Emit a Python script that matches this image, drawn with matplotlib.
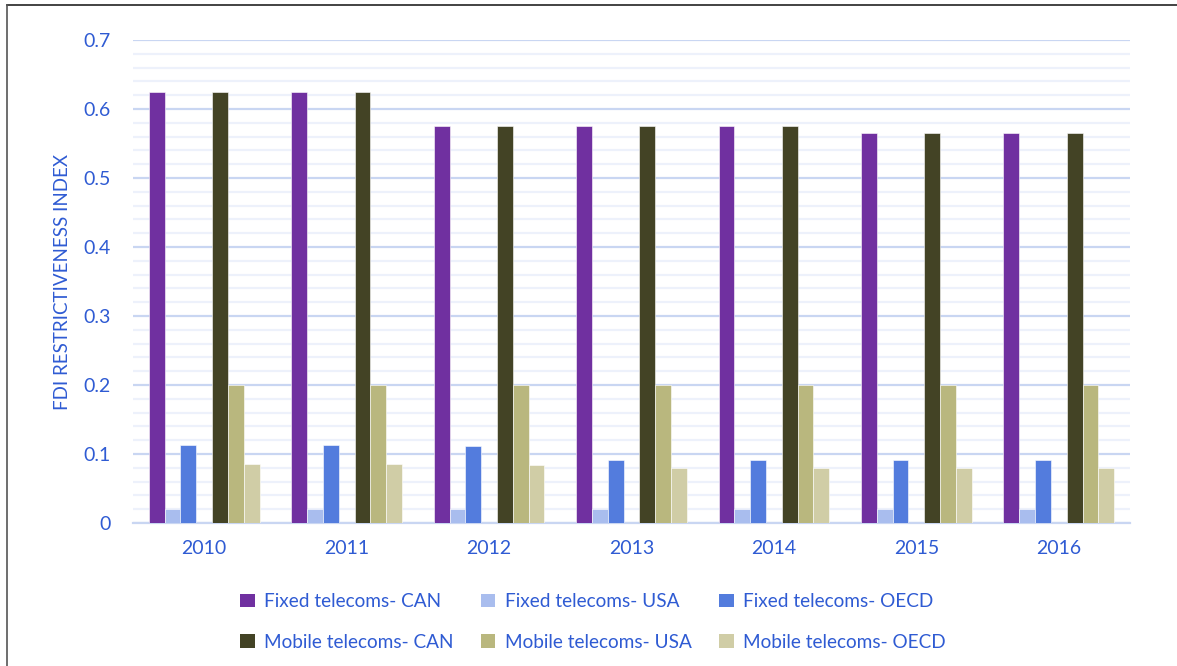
import matplotlib
matplotlib.use("Agg")
import matplotlib.pyplot as plt
from matplotlib.patches import Patch
from matplotlib.lines import Line2D
import numpy as np

years = ["2010", "2011", "2012", "2013", "2014", "2015", "2016"]
fixed_can = [0.625, 0.625, 0.575, 0.575, 0.575, 0.565, 0.565]
fixed_usa = [0.02, 0.02, 0.02, 0.02, 0.02, 0.02, 0.02]
fixed_oecd = [0.113, 0.113, 0.111, 0.092, 0.092, 0.092, 0.092]
mobile_can = [0.625, 0.625, 0.575, 0.575, 0.575, 0.565, 0.565]
mobile_usa = [0.2, 0.2, 0.2, 0.2, 0.2, 0.2, 0.2]
mobile_oecd = [0.086, 0.086, 0.084, 0.079, 0.079, 0.079, 0.079]

series_names = ["Fixed telecoms- CAN", "Fixed telecoms- USA", "Fixed telecoms- OECD",
                "Mobile telecoms- CAN", "Mobile telecoms- USA", "Mobile telecoms- OECD"]
series_vals = [fixed_can, fixed_usa, fixed_oecd, mobile_can, mobile_usa, mobile_oecd]
colors = ["#7030A0", "#A9BDEE", "#537CDD", "#434325", "#B9B77E", "#D0CDA6"]
slots = [0, 1, 2, 4, 5, 6]

txt_color = "#2F5BD3"
plt.rcParams['font.family'] = ['Lato', 'DejaVu Sans']

fig = plt.figure(figsize=(11.77, 6.66), dpi=100)
ax = fig.add_axes([133/1177, 1-523/666, (1130-133)/1177, (523-40)/666])

x = np.arange(len(years))
w = 0.111
for s, vals, col, name in zip(slots, series_vals, colors, series_names):
    ax.bar(x + (s - 3) * w, vals, width=w, color=col, edgecolor='white', linewidth=0.4,
           label=name, zorder=3)

ax.set_xlim(-0.5, len(years) - 0.5)
ax.set_ylim(0, 0.7)
ax.set_yticks(np.arange(0, 0.71, 0.1))
ax.set_yticklabels(["0", "0.1", "0.2", "0.3", "0.4", "0.5", "0.6", "0.7"])
ax.set_yticks(np.arange(0, 0.701, 0.02), minor=True)
ax.set_xticks(x)
ax.set_xticklabels(years)
ax.grid(axis='y', which='major', color='#C9D6F2', linewidth=1.6, zorder=0)
ax.grid(axis='y', which='minor', color='#EDF1FB', linewidth=1.6, zorder=0)
ax.tick_params(axis='both', which='both', length=0, labelsize=14, colors=txt_color)
ax.tick_params(axis='y', pad=16)
ax.tick_params(axis='x', pad=12)
for sp in ['top', 'right', 'left']:
    ax.spines[sp].set_visible(False)
ax.spines['bottom'].set_color('#C9D6F2')
ax.spines['bottom'].set_linewidth(1.6)
ax.set_ylabel("FDI RESTRICTIVENESS INDEX", color=txt_color, fontsize=13.5, labelpad=9)

handles = [Patch(facecolor=c) for c in colors]
order = [0, 3, 1, 4, 2, 5]
leg = fig.legend([handles[i] for i in order], [series_names[i] for i in order],
                 ncol=3, loc='center', bbox_to_anchor=(593/1177, 1-622/666),
                 frameon=False, fontsize=13.7, handlelength=0.75, handleheight=0.75,
                 handletextpad=0.5, columnspacing=1.45, labelspacing=1.25)
for t in leg.get_texts():
    t.set_color(txt_color)

fig.add_artist(Line2D([7/1177, 1], [1-5/666, 1-5/666], color='#222222', linewidth=1.2))
fig.add_artist(Line2D([7/1177, 7/1177], [0, 1-5/666], color='#555555', linewidth=1.2))

fig.savefig("out.png", dpi=100)
